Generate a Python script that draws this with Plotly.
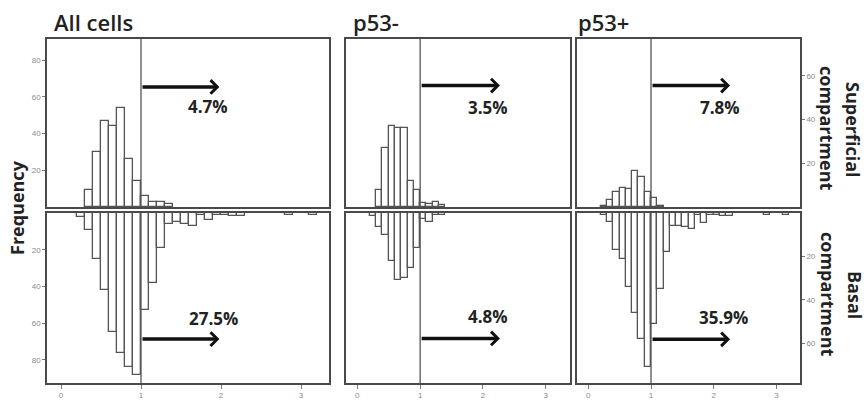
import plotly.graph_objects as go

# ---------------- data ----------------
bin_left = [0.2, 0.3, 0.4, 0.5, 0.6, 0.7, 0.8, 0.9, 1.0, 1.1, 1.2, 1.3, 1.4, 1.5, 1.6,
            1.7, 1.8, 1.9, 2.0, 2.1, 2.2, 2.3, 2.4, 2.5, 2.6, 2.7, 2.8, 2.9, 3.0, 3.1]
bin_width = 0.1

all_superficial = [0, 9, 30, 47, 44, 54, 26, 14, 6, 2.5, 2.5, 1.5, 0, 0, 0,
                   0, 0, 0, 0, 0, 0, 0, 0, 0, 0, 0, 0, 0, 0, 0]
all_basal = [2, 9, 25, 42, 65, 76, 84, 88, 53, 38, 19, 6, 5, 6, 7,
             1, 4, 1, 1, 1.5, 1.5, 0, 0, 0, 0, 0, 1, 0, 0, 1]
neg_superficial = [0, 8, 27, 37, 36, 36, 12, 8, 2, 1.5, 2.5, 1, 0, 0, 0,
                   0, 0, 0, 0, 0, 0, 0, 0, 0, 0, 0, 0, 0, 0, 0]
neg_basal = [1.5, 6.5, 10, 22, 31, 30, 25.5, 16, 2.7, 4, 1, 1, 0, 0, 0,
             0, 0, 0, 0, 0, 0, 0, 0, 0, 0, 0, 0, 0, 0, 0]
pos_superficial = [0.5, 3, 7, 8.5, 8.2, 16.4, 13.5, 7, 4, 0.5, 0, 0, 0, 0, 0,
                   0, 0, 0, 0, 0, 0, 0, 0, 0, 0, 0, 0, 0, 0, 0]
pos_basal = [1, 4, 17, 21, 34, 46, 58, 71, 51, 35, 18, 6, 6, 6.5, 7.5,
             1, 4.5, 1, 1, 1.5, 1.5, 0, 0, 0, 0, 0, 1, 0, 0, 1]

panel_titles = ["All cells", "p53-", "p53+"]
pct_superficial = ["4.7%", "3.5%", "7.8%"]
pct_basal = ["27.5%", "4.8%", "35.9%"]
x_ticks = [0, 1, 2, 3]
threshold = 1.0

# ---------------- layout geometry ----------------
W, H = 867, 401
def fx(px):
    return px / W
def fy(py):
    return 1 - py / H

panel_x = [(47, 329), (346, 570), (577, 800)]
top_y = (39, 207)
bot_y = (213, 383)
x_ranges = [[-0.175, 3.35], [-0.18, 3.385], [-0.18, 3.375]]
top_ranges = [[0, 91.5], [0, 76.8], [0, 76.8]]
bot_ranges = [[92.6, 0], [78.2, 0], [78.2, 0]]

# arrows/text positions in data units: (arrow y, arrow tip x, text x, text y)
sup_ann = [(65.4, 1.98, 1.84, 54.5), (55.5, 2.27, 2.08, 45.5), (55.5, 2.26, 2.1, 45.5)]
bas_ann = [(68.7, 1.98, 1.9, 57.2), (57.7, 2.27, 2.08, 47.6), (58.1, 2.26, 2.16, 48.0)]

line_col = "#4a4a4a"
bar_line = "#555555"
tick_font = dict(family="Liberation Sans, Arial", size=8, color="#8a8a8a")

fig = go.Figure()

series_top = [all_superficial, neg_superficial, pos_superficial]
series_bot = [all_basal, neg_basal, pos_basal]
centers = [b + bin_width / 2 for b in bin_left]

def clean(vals):
    return [v if v else None for v in vals]

for i in range(3):
    xt = f"x{2*i+1}" if i else "x"
    yt = f"y{2*i+1}" if i else "y"
    xb = f"x{2*i+2}"
    yb = f"y{2*i+2}"
    fig.add_trace(go.Bar(x=centers, y=clean(series_top[i]), width=bin_width,
                         xaxis=xt, yaxis=yt, marker=dict(color="white",
                         line=dict(color=bar_line, width=1.3)), showlegend=False))
    fig.add_trace(go.Bar(x=centers, y=clean(series_bot[i]), width=bin_width,
                         xaxis=xb, yaxis=yb, marker=dict(color="white",
                         line=dict(color=bar_line, width=1.3)), showlegend=False))

layout = dict(width=W, height=H, margin=dict(l=0, r=0, t=0, b=0),
              paper_bgcolor="white", plot_bgcolor="white", bargap=0,
              showlegend=False)

for i in range(3):
    n_t = 2 * i + 1
    n_b = 2 * i + 2
    kx_t = "xaxis" if n_t == 1 else f"xaxis{n_t}"
    ky_t = "yaxis" if n_t == 1 else f"yaxis{n_t}"
    kx_b = f"xaxis{n_b}"
    ky_b = f"yaxis{n_b}"
    xd = [fx(panel_x[i][0]), fx(panel_x[i][1])]
    ref_t = "" if n_t == 1 else str(n_t)
    ref_b = str(n_b)
    layout[kx_t] = dict(domain=xd, range=x_ranges[i], anchor="y" + ref_t,
                        showline=True, mirror=True, linecolor=line_col, linewidth=1.6,
                        showgrid=False, zeroline=False, showticklabels=False, ticks="")
    layout[kx_b] = dict(domain=xd, range=x_ranges[i], anchor="y" + ref_b,
                        showline=True, mirror=True, linecolor=line_col, linewidth=1.6,
                        showgrid=False, zeroline=False, tickvals=x_ticks,
                        ticks="outside", ticklen=4, tickcolor="#777", tickwidth=1,
                        tickfont=tick_font)
    ytd = dict(domain=[fy(top_y[1]), fy(top_y[0])], range=top_ranges[i],
               anchor="x" + ref_t, showline=True, mirror=True, linecolor=line_col,
               linewidth=1.6, showgrid=False, zeroline=False)
    ybd = dict(domain=[fy(bot_y[1]), fy(bot_y[0])], range=bot_ranges[i],
               anchor="x" + ref_b, showline=True, mirror=True, linecolor=line_col,
               linewidth=1.6, showgrid=False, zeroline=False)
    if i == 0:
        ytd.update(tickvals=[20, 40, 60, 80], ticks="outside", ticklen=3,
                   tickcolor="#777", tickfont=tick_font, side="left")
        ybd.update(tickvals=[20, 40, 60, 80], ticks="outside", ticklen=3,
                   tickcolor="#777", tickfont=tick_font, side="left")
    elif i == 1:
        ytd.update(showticklabels=False, ticks="")
        ybd.update(showticklabels=False, ticks="")
    else:
        ytd.update(tickvals=[20, 40, 60], ticks="outside", ticklen=3,
                   tickcolor="#777", tickfont=tick_font, side="right")
        ybd.update(tickvals=[20, 40, 60], ticks="outside", ticklen=3,
                   tickcolor="#777", tickfont=tick_font, side="right")
    layout[ky_t] = ytd
    layout[ky_b] = ybd

fig.update_layout(**layout)

shapes = []
annotations = []
pct_font = dict(family="Open Sans", size=17, color="#222", weight="bold")
for i in range(3):
    n_t = 2 * i + 1
    n_b = 2 * i + 2
    ref_t = "" if n_t == 1 else str(n_t)
    ref_b = str(n_b)
    for ref in (ref_t, ref_b):
        shapes.append(dict(type="line", xref="x" + ref, yref=f"y{ref} domain",
                           x0=threshold, x1=threshold, y0=0, y1=1,
                           line=dict(color="#555", width=1.3)))
    ay, tip, tx, ty = sup_ann[i]
    annotations.append(dict(x=tip, y=ay, ax=threshold, ay=ay, xref="x" + ref_t,
                            yref="y" + ref_t, axref="x" + ref_t, ayref="y" + ref_t,
                            showarrow=True, arrowhead=4, arrowsize=0.75,
                            arrowwidth=3.5, arrowcolor="#111", text="", standoff=0))
    annotations.append(dict(x=tx, y=ty, xref="x" + ref_t, yref="y" + ref_t,
                            text=pct_superficial[i], showarrow=False, font=pct_font))
    ay, tip, tx, ty = bas_ann[i]
    annotations.append(dict(x=tip, y=ay, ax=threshold, ay=ay, xref="x" + ref_b,
                            yref="y" + ref_b, axref="x" + ref_b, ayref="y" + ref_b,
                            showarrow=True, arrowhead=4, arrowsize=0.75,
                            arrowwidth=3.5, arrowcolor="#111", text="", standoff=0))
    annotations.append(dict(x=tx, y=ty, xref="x" + ref_b, yref="y" + ref_b,
                            text=pct_basal[i], showarrow=False, font=pct_font))

title_font = dict(family="Open Sans", size=22, color="#222", weight=600)
title_x = [52, 351, 576]
for i in range(3):
    annotations.append(dict(x=fx(title_x[i]), y=fy(22), xref="paper", yref="paper",
                            xanchor="left", yanchor="middle", text=panel_titles[i],
                            showarrow=False, font=title_font))

side_font = dict(family="Open Sans", size=18, color="#222", weight="bold")
side_labels = [("Frequency", 17, 208, -90),
               ("Superficial", 853, 130, 90),
               ("compartment", 827, 128, 90),
               ("Basal", 855, 295, 90),
               ("compartment", 828, 294, 90)]
for txt, px, py, ang in side_labels:
    annotations.append(dict(x=fx(px), y=fy(py), xref="paper", yref="paper",
                            xanchor="center", yanchor="middle", text=txt,
                            textangle=ang, showarrow=False, font=side_font))

fig.update_layout(shapes=shapes, annotations=annotations)
fig.write_html("out.html")
